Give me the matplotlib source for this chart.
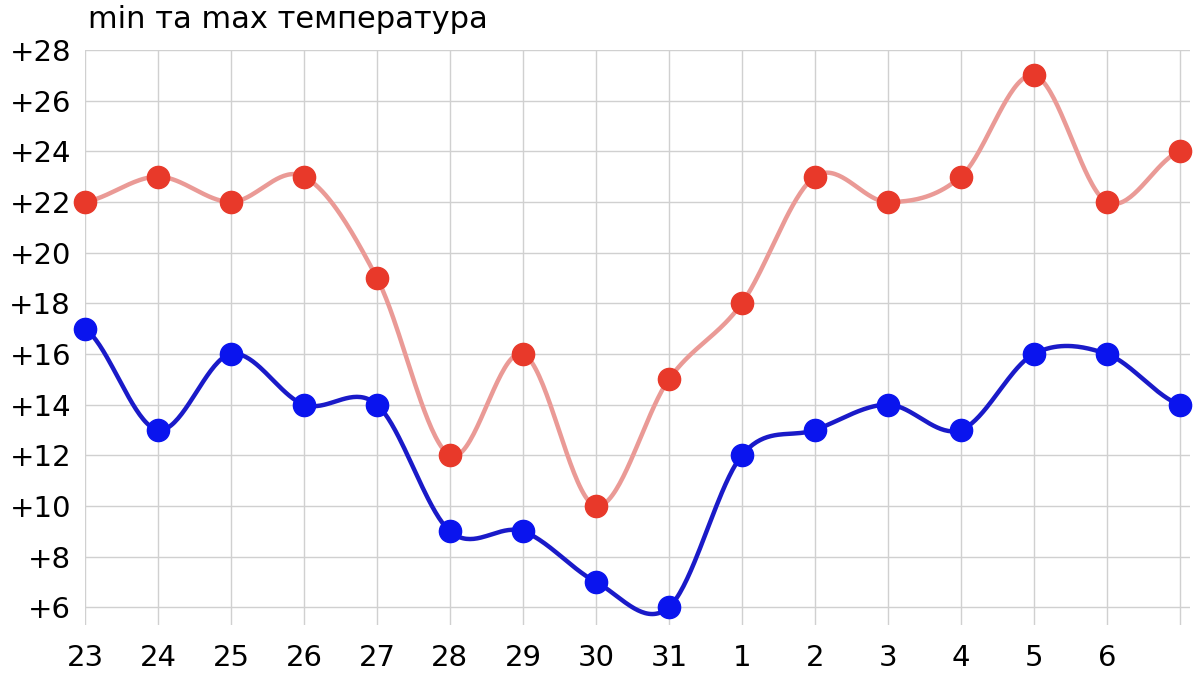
import numpy as np
import matplotlib
matplotlib.use("Agg")
import matplotlib.pyplot as plt

labels = ["23","24","25","26","27","28","29","30","31","1","2","3","4","5","6",""]
tmax = [22,23,22,23,19,12,16,10,15,18,23,22,23,27,22,24]
tmin = [17,13,16,14,14,9,9,7,6,12,13,14,13,16,16,14]

def catmull(y, n=40):
    y = np.asarray(y, float)
    p = np.concatenate([[y[0]], y, [y[-1]]])
    xs, ys = [], []
    for i in range(len(y)-1):
        p0,p1,p2,p3 = p[i],p[i+1],p[i+2],p[i+3]
        t = np.linspace(0,1,n,endpoint=False)
        yy = 0.5*((2*p1)+(-p0+p2)*t+(2*p0-5*p1+4*p2-p3)*t**2+(-p0+3*p1-3*p2+p3)*t**3)
        xs.append(i+t); ys.append(yy)
    xs.append([len(y)-1]); ys.append([y[-1]])
    return np.concatenate(xs), np.concatenate(ys)

fig = plt.figure(figsize=(12,6.87), dpi=100)
ax = fig.add_axes([85/1200, 1-625/687, (1190-85)/1200, (625-50)/687])
x = np.arange(len(tmax))
for data, lc, mc in [(tmax, "#ea9a96", "#e8392a"), (tmin, "#1a1ac8", "#0a14ee")]:
    sx, sy = catmull(data)
    ax.plot(sx, sy, color=lc, lw=3.2, clip_on=False, zorder=3)
    ax.plot(x, data, "o", color=mc, ms=16, clip_on=False, zorder=4)

ax.set_xlim(0, 15.14)
ax.set_ylim(5.3, 28)
ax.set_yticks(range(6, 29, 2))
ax.set_yticklabels([f"+{v}" for v in range(6, 29, 2)])
ax.set_xticks(x)
ax.set_xticklabels(labels)
ax.grid(True, color="#d0d0d0", lw=1)
ax.set_axisbelow(True)
for s in ax.spines.values():
    s.set_visible(False)
ax.tick_params(length=0, labelsize=21, pad=14)
ax.tick_params(axis="y", pad=10)
fig.text(88/1200, 1-20/687, "min та max температура", fontsize=22, va="center", ha="left")
fig.savefig("out.png", dpi=100)
